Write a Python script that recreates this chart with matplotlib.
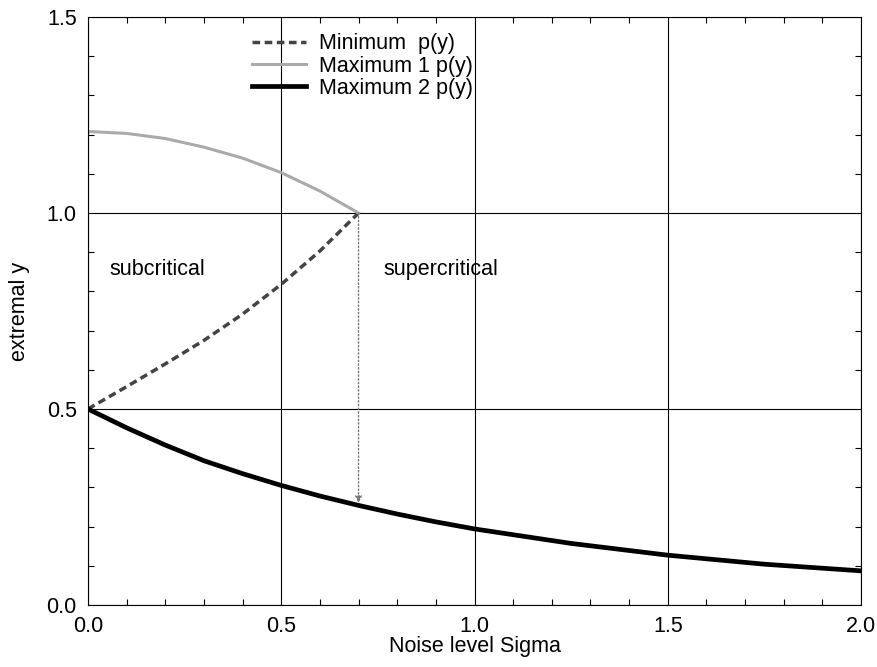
#!/usr/bin/env python3

import numpy as np
from matplotlib import pyplot as plt
from matplotlib.ticker import MultipleLocator

plt.rcParams['font.family'] = ['Liberation Sans', 'DejaVu Sans']

# values
sig_min = [0.0, 0.1, 0.2, 0.3, 0.4, 0.5, 0.6, 0.7]
y_min = [0.5, 0.557, 0.615, 0.675, 0.742, 0.818, 0.903, 1.0]

sig_max1 = [0.0, 0.1, 0.2, 0.3, 0.4, 0.5, 0.6, 0.7]
y_max1 = [1.208, 1.203, 1.19, 1.168, 1.14, 1.103, 1.056, 1.0]

sig_max2 = [0.0, 0.1, 0.2, 0.3, 0.4, 0.5, 0.6, 0.7, 0.8, 0.9, 1.0,
            1.25, 1.5, 1.75, 2.0]
y_max2 = [0.5, 0.452, 0.408, 0.368, 0.335, 0.305, 0.278, 0.254, 0.232, 0.212,
          0.194, 0.157, 0.127, 0.104, 0.087]

SIG_C = 0.7       # critical noise level
Y_ARROW = 0.26    # where the jump arrow ends

FS = 15.5

fig = plt.figure(figsize=(8.77, 6.67), dpi=100)
ax = fig.add_axes([0.1003, 0.093, 0.8815, 0.8815])

ax.plot(sig_min, y_min, color='#444444', linestyle=(0, (2.2, 1.3)), linewidth=2.5,
        label='Minimum  p(y)')
ax.plot(sig_max1, y_max1, color='#aaaaaa', linewidth=2.2, label='Maximum 1 p(y)')
ax.plot(sig_max2, y_max2, color='black', linewidth=3.4, label='Maximum 2 p(y)')

# jump from the vanishing maximum down to the other one
ax.annotate('', xy=(SIG_C, Y_ARROW), xytext=(SIG_C, 1.0),
            arrowprops=dict(arrowstyle='-|>', linestyle=':', color='#777777',
                            linewidth=1.0, mutation_scale=10, shrinkA=0, shrinkB=0))

ax.text(0.055, 0.855, 'subcritical', fontsize=FS, va='center')
ax.text(0.765, 0.855, 'supercritical', fontsize=FS, va='center')

ax.set_xlim(0, 2.0)
ax.set_ylim(0, 1.5)
ax.set_xticks([0, 0.5, 1.0, 1.5, 2.0])
ax.set_yticks([0, 0.5, 1.0, 1.5])
ax.xaxis.set_minor_locator(MultipleLocator(0.1))
ax.yaxis.set_minor_locator(MultipleLocator(0.1))
ax.tick_params(which='both', direction='in', top=True, right=True,
               labelsize=FS, width=0.8)
ax.tick_params(which='major', length=0, pad=8)
ax.tick_params(which='minor', length=4)
ax.grid(which='major', color='black', linewidth=0.8)

ax.set_xlabel('Noise level Sigma', fontsize=FS, labelpad=-1)
ax.set_ylabel('extremal y', fontsize=FS, labelpad=12)

ax.legend(loc='upper left', bbox_to_anchor=(0.212, 0.972), frameon=False,
          fontsize=FS, borderpad=0, borderaxespad=0, handlelength=2.5,
          handletextpad=0.6, labelspacing=0.05)

plt.savefig('out.png')
